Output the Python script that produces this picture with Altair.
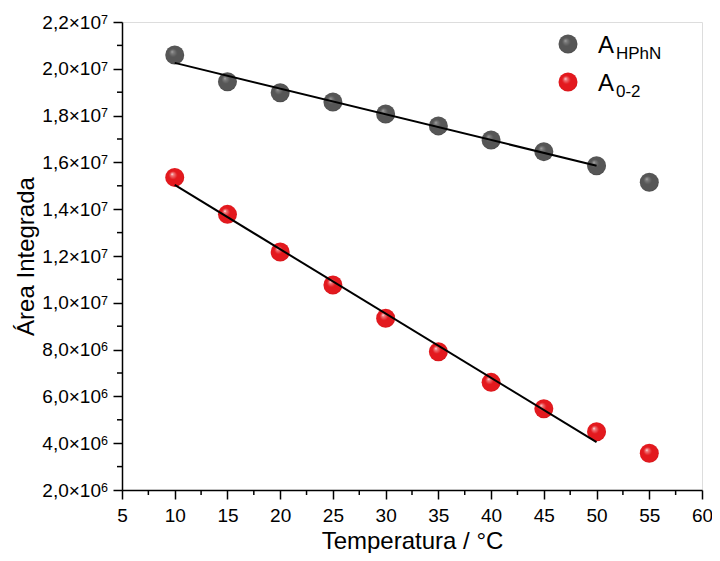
import altair as alt
import pandas as pd

# ---------------- data ----------------
temps = [10, 15, 20, 25, 30, 35, 40, 45, 50, 55]
area_hphn = [2.059e7, 1.945e7, 1.898e7, 1.858e7, 1.807e7, 1.756e7, 1.696e7, 1.646e7, 1.586e7, 1.515e7]
area_02 = [1.536e7, 1.378e7, 1.217e7, 1.076e7, 9.34e6, 7.91e6, 6.60e6, 5.47e6, 4.49e6, 3.57e6]
fit_max_temp = 50

x_ticks = [5, 10, 15, 20, 25, 30, 35, 40, 45, 50, 55, 60]
x_minor = [7.5, 12.5, 17.5, 22.5, 27.5, 32.5, 37.5, 42.5, 47.5, 52.5, 57.5]
y_ticks = [2e6, 4e6, 6e6, 8e6, 1e7, 1.2e7, 1.4e7, 1.6e7, 1.8e7, 2.0e7, 2.2e7]
y_exponents = ["6", "6", "6", "6", "7", "7", "7", "7", "7", "7", "7"]
y_minor = [3e6, 5e6, 7e6, 9e6, 1.1e7, 1.3e7, 1.5e7, 1.7e7, 1.9e7, 2.1e7]

legend_main = ["A", "A"]
legend_sub = ["HPhN", "0-2"]

FONT = "Liberation Sans"
W, H = 580, 468
LABEL_FS = 19
TITLE_FS = 24

df_h = pd.DataFrame({"temp": temps, "area": area_hphn})
df_r = pd.DataFrame({"temp": temps, "area": area_02})

xscale = alt.Scale(domain=[5, 60], nice=False, zero=False)
yscale = alt.Scale(domain=[2e6, 2.2e7], nice=False, zero=False)

xaxis = alt.Axis(
    values=x_ticks, title="Temperatura / °C", labelFontSize=LABEL_FS, labelFont=FONT,
    labelColor="black", labelPadding=22, labelBaseline="alphabetic",
    titleFont=FONT, titleFontSize=TITLE_FS, titleFontWeight="normal", titleColor="black",
    titleY=58, titleBaseline="alphabetic",
    domainColor="black", domainWidth=1.5, tickColor="black", tickWidth=1.5,
    tickSize=9, grid=False, labelFlush=False, labelOverlap=False,
)
yaxis = alt.Axis(
    values=y_ticks, title="Área Integrada", labelFontSize=LABEL_FS, labelFont=FONT,
    labelColor="black", labelPadding=12.5,
    labelExpr="replace(format(datum.value >= 1e7 ? datum.value / 1e7 : datum.value / 1e6, '.1f'), '.', ',') + '×10'",
    titleFont=FONT, titleFontSize=TITLE_FS, titleFontWeight="normal", titleColor="black",
    titleX=-89, titleBaseline="alphabetic",
    domainColor="black", domainWidth=1.5, tickColor="black", tickWidth=1.5,
    tickSize=9, grid=False, labelFlush=False, labelOverlap=False,
)

X = alt.X("temp:Q", scale=xscale, axis=xaxis)
Y = alt.Y("area:Q", scale=yscale, axis=yaxis)


def sphere(base, light, hi, dark):
    return alt.RadialGradient(
        gradient="radial",
        x1=0.36, y1=0.32, r1=0.0,
        x2=0.5, y2=0.5, r2=0.55,
        stops=[
            alt.GradientStop(offset=0.0, color=hi),
            alt.GradientStop(offset=0.13, color=light),
            alt.GradientStop(offset=0.4, color=base),
            alt.GradientStop(offset=0.85, color=base),
            alt.GradientStop(offset=1.0, color=dark),
        ],
    )


grad_gray = sphere("#565656", "#7d7d7d", "#b0b0b0", "#3e3e3e")
grad_red = sphere("#e3191e", "#f07a7c", "#ffffff", "#c01015")
SIZE = 361

pts_h = alt.Chart(df_h).mark_point(
    shape="circle", filled=True, size=SIZE, fill=grad_gray, strokeWidth=0, opacity=1
).encode(x=X, y=Y)
pts_r = alt.Chart(df_r).mark_point(
    shape="circle", filled=True, size=SIZE, fill=grad_red, strokeWidth=0, opacity=1
).encode(x=X, y=Y)

fit_h = alt.Chart(df_h).transform_filter(alt.datum.temp <= fit_max_temp).transform_regression(
    "temp", "area").mark_line(color="black", strokeWidth=2).encode(x=X, y=Y)
fit_r = alt.Chart(df_r).transform_filter(alt.datum.temp <= fit_max_temp).transform_regression(
    "temp", "area").mark_line(color="black", strokeWidth=2).encode(x=X, y=Y)

# minor ticks
ymin_df = pd.DataFrame({"area": y_minor})
ymin = alt.Chart(ymin_df).mark_rule(color="black", strokeWidth=1.5).encode(
    y=Y, x=alt.value(0), x2=alt.value(-5))
xmin_df = pd.DataFrame({"temp": x_minor})
xmin = alt.Chart(xmin_df).mark_rule(color="black", strokeWidth=1.5).encode(
    x=X, y=alt.value(H), y2=alt.value(H + 5))

# exponents of y labels
exp_df = pd.DataFrame({"area": y_ticks, "e": y_exponents})
exps = alt.Chart(exp_df).mark_text(
    font=FONT, fontSize=12.5, color="black", align="left", baseline="alphabetic", dy=1.7
).encode(y=Y, x=alt.value(-21), text="e:N")

# legend
leg_df = pd.DataFrame({"k": [0]})
leg_layers = []
for i, (grad, main, sub) in enumerate(zip([grad_gray, grad_red], legend_main, legend_sub)):
    yc = 22 + 38 * i
    leg_layers.append(alt.Chart(leg_df).mark_point(
        shape="circle", filled=True, size=SIZE, fill=grad, strokeWidth=0, opacity=1
    ).encode(x=alt.value(446), y=alt.value(yc)))
    leg_layers.append(alt.Chart(leg_df).mark_text(
        text=main, font=FONT, fontSize=24, color="black", align="left", baseline="alphabetic"
    ).encode(x=alt.value(476), y=alt.value(yc + 9)))
    leg_layers.append(alt.Chart(leg_df).mark_text(
        text=sub, font=FONT, fontSize=17, color="black", align="left", baseline="alphabetic"
    ).encode(x=alt.value(494), y=alt.value(yc + 15)))

chart = alt.layer(
    pts_h, pts_r, fit_h, fit_r, ymin, xmin, exps, *leg_layers
).properties(
    width=W, height=H,
    autosize=alt.AutoSizeParams(type="none"),
    padding={"left": 114, "top": 14, "right": 10, "bottom": 63},
).configure_view(stroke=None).configure(background="white")

chart.save("out.html", embed_options={"renderer": "svg", "actions": False})
